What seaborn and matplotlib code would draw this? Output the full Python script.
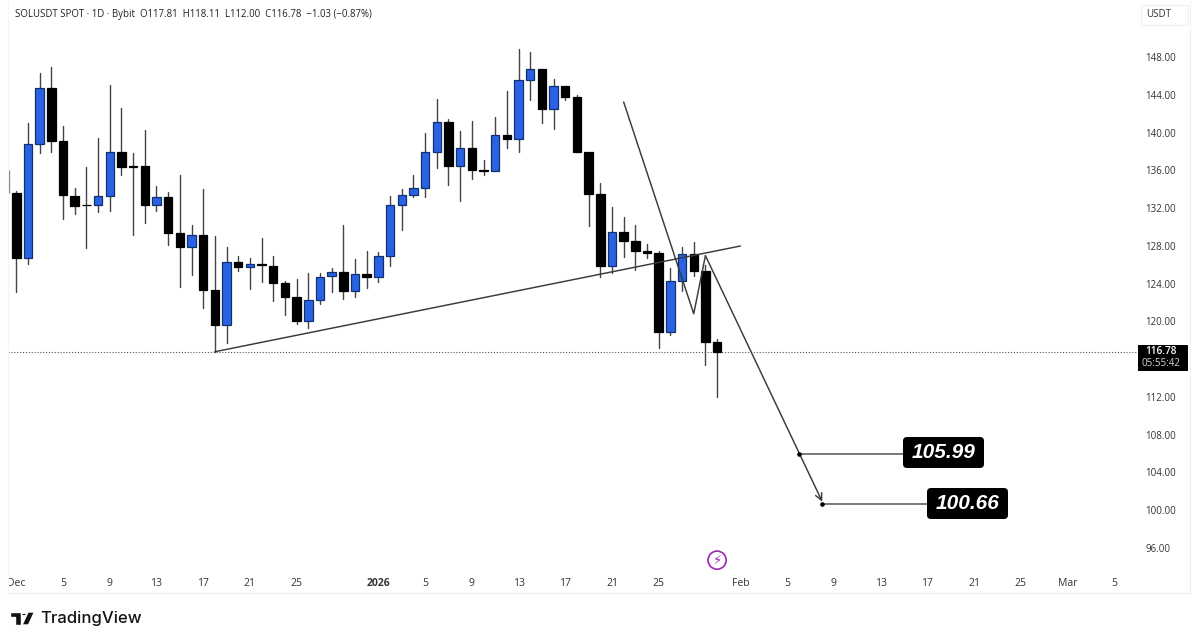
"""SOLUSDT daily candles with hand-drawn TradingView style annotations."""

import matplotlib.pyplot as plt
from matplotlib.patches import Circle, FancyBboxPatch, Polygon, Rectangle
from matplotlib.lines import Line2D
from matplotlib.transforms import IdentityTransform
import pandas as pd
import seaborn as sns

W, H = 1200, 643

# days counted from Dec 1
opens = [133.56, 126.67, 138.78, 144.75, 139.07, 133.31, 132.35, 132.32, 133.31, 137.94,
         136.45, 136.45, 132.29, 133.13, 129.39, 127.84, 129.14, 123.28, 119.57, 126.28,
         125.79, 126.04, 125.90, 124.02, 122.54, 120.03, 122.29, 124.76, 125.26, 123.25,
         125.01, 124.69, 126.88, 132.36, 133.42, 134.16, 137.97, 141.11, 136.42, 138.39,
         136.03, 135.89, 139.74, 139.28, 145.60, 146.76, 142.49, 144.96, 143.80, 137.93,
         133.48, 125.86, 129.49, 128.47, 127.41, 127.23, 118.83, 124.23, 127.16, 125.36,
         117.81]
highs = [133.84, 141.03, 146.27, 146.98, 140.73, 134.16, 136.38, 139.38, 145.03, 142.63,
         137.86, 140.23, 134.33, 133.66, 135.50, 130.17, 134.02, 129.04, 127.91, 126.92,
         126.67, 128.79, 126.92, 124.31, 124.45, 125.15, 125.08, 125.61, 130.17, 126.57,
         127.45, 127.31, 133.27, 133.98, 135.53, 139.91, 143.51, 141.43, 140.12, 141.22,
         137.09, 141.64, 144.43, 148.88, 148.49, 146.76, 145.70, 144.96, 144.01, 137.93,
         134.68, 132.14, 131.01, 130.24, 128.19, 127.48, 125.61, 127.83, 128.36, 126.00,
         118.11]
lows = [123.07, 126.07, 137.79, 137.90, 130.84, 131.37, 127.80, 131.58, 131.65, 135.50,
        129.11, 130.38, 131.65, 128.05, 123.67, 124.91, 121.37, 116.78, 117.67, 125.30,
        123.39, 124.20, 122.19, 120.63, 119.72, 119.26, 121.80, 123.10, 122.33, 122.61,
        123.53, 124.20, 125.86, 129.64, 133.20, 133.20, 136.24, 134.48, 132.78, 135.04,
        135.46, 135.89, 138.32, 137.94, 143.44, 141.01, 140.34, 143.44, 137.90, 130.09,
        124.73, 125.15, 126.77, 125.43, 126.67, 117.20, 118.55, 123.21, 124.80, 115.37,
        112.00]
closes = [126.67, 138.75, 144.75, 139.10, 133.35, 132.22, 132.28, 133.27, 137.90, 136.31,
          136.31, 132.32, 133.13, 129.36, 127.84, 129.14, 123.28, 119.57, 126.28, 125.79,
          126.04, 125.93, 124.02, 122.54, 120.03, 122.26, 124.73, 125.26, 123.25, 125.01,
          124.69, 126.88, 132.32, 133.38, 134.09, 137.97, 141.08, 136.42, 138.39, 136.03,
          135.89, 139.74, 139.31, 145.56, 146.73, 142.49, 144.96, 143.80, 137.90, 133.48,
          125.86, 129.49, 128.50, 127.45, 127.23, 118.83, 124.23, 127.16, 125.36, 117.81,
          116.78]

# leftover wick of the candle cut off at the chart edge
edge_day, edge_low, edge_high = -0.66, 133.56, 136.03

price_ticks = [148, 144, 140, 136, 132, 128, 124, 120, 112, 108, 104, 100, 96]
time_days = [0, 4, 8, 12, 16, 20, 24, 31, 35, 39, 43, 47, 51, 55, 62, 66, 70, 74, 78, 82, 86, 90, 94]
time_labels = ["Dec", "5", "9", "13", "17", "21", "25", "2026", "5", "9", "13", "17", "21", "25",
               "Feb", "5", "9", "13", "17", "21", "25", "Mar", "5"]

neck_days = [17, 62]
neck_prices = [116.78, 127.98]
path_days = [52, 58, 59, 69]
path_prices = [143.23, 120.8, 126.96, 100.9]
target_days = [67, 69]
target_prices = [105.99, 100.66]
target_ends = [76, 78]
# label boxes in pixels: left, top
target_boxes = [(903, 437), (927, 488)]

last_price = 116.78
header = "SOLUSDT SPOT · 1D · Bybit  O117.81  H118.11  L112.00  C116.78  −1.03 (−0.87%)"

BLUE = "#2a62e4"
BLUE_EDGE = "#10306f"
INK = "#131722"
LINE = "#3a3a3a"

sns.set_theme(style="white")
plt.rcParams["font.family"] = ["Open Sans", "DejaVu Sans"]

# pixel scale of the price and time axes
PX_PER_UNIT = 9.44
PX_PER_DAY = 11.68
DAY0_PX = 16.3
AX_L, AX_R, AX_B = 8, 1137, 570

fig = plt.figure(figsize=(W / 100, H / 100), dpi=100, facecolor="white")
ax = fig.add_axes([AX_L / W, 1 - AX_B / H, (AX_R - AX_L) / W, AX_B / H])
ax.patch.set_alpha(0)

candles = pd.DataFrame({"day": range(len(opens)), "open": opens, "high": highs,
                        "low": lows, "close": closes})
candles["bottom"] = candles[["open", "close"]].min(axis=1)
candles["height"] = (candles["open"] - candles["close"]).abs()
candles["up"] = candles["close"] > candles["open"]

wicks = candles.melt(id_vars="day", value_vars=["low", "high"], value_name="price")
sns.lineplot(data=wicks, x="day", y="price", units="day", estimator=None, sort=False,
             color="#444444", linewidth=1.0, ax=ax, zorder=2)
ax.vlines(edge_day, edge_low, edge_high, color="#888888", linewidth=1.0, zorder=2)

for up, color, edge in [(True, BLUE, BLUE_EDGE), (False, "black", "black")]:
    part = candles[candles["up"] == up]
    sns.barplot(data=part, x="day", y="height", bottom=part["bottom"].to_numpy(), native_scale=True,
                width=0.72, color=color, saturation=1, edgecolor=edge, linewidth=0.9,
                ax=ax, zorder=3)

ax.set_xlim((AX_L - DAY0_PX) / PX_PER_DAY, (AX_R - DAY0_PX) / PX_PER_DAY)
ax.set_ylim(148 - (AX_B - 57) / PX_PER_UNIT, 148 + 57 / PX_PER_UNIT)

# drawings on top of the candles
ax.axhline(last_price, color="#555555", linewidth=0.8, linestyle=(0, (1, 1.6)), zorder=1)
ax.plot(neck_days, neck_prices, color=LINE, linewidth=1.05, zorder=4)
ax.plot(path_days[:-1], path_prices[:-1], color=LINE, linewidth=1.05, zorder=4)
ax.annotate("", xy=(path_days[-1], path_prices[-1]), xytext=(path_days[-2], path_prices[-2]),
            arrowprops=dict(arrowstyle="->", color=LINE, lw=1.05, shrinkA=0, shrinkB=0,
                            mutation_scale=12), zorder=4)
for day, price, end, (box_x, box_y) in zip(target_days, target_prices, target_ends, target_boxes):
    ax.plot([day, end + 0.5], [price, price], color="#555555", linewidth=1.1, zorder=4)
    ax.plot(day, price, "o", color="black", markersize=2.3, zorder=5)
    fig.add_artist(FancyBboxPatch((box_x + 3, H - box_y - 28), 75, 25, boxstyle="round,pad=3,rounding_size=4",
                                  facecolor="black", edgecolor="none", transform=IdentityTransform(),
                                  zorder=6))
    fig.text((box_x + 40.5) / W, 1 - (box_y + 15.5) / H, f"{price:.2f}", color="white", fontsize=15,
             fontweight="bold", fontstyle="italic", family="Liberation Sans", ha="center",
             va="center", zorder=7)

ax.scatter([60], [94.7], s=170, facecolor="none", edgecolor="#9c27b0", linewidth=1.2, zorder=4)
ax.text(60, 94.7, "⚡", color="#9c27b0", fontsize=9.5, fontweight="bold", ha="center", va="center",
        family="DejaVu Sans", zorder=5)

# time axis
ax.set_xticks(time_days)
ax.set_xticklabels(time_labels, fontsize=7.5, color="#333333")
for tick, text in zip(ax.get_xticklabels(), time_labels):
    if text == "2026":
        tick.set_fontweight("bold")
ax.tick_params(axis="x", length=0, pad=5.5)
ax.set_xlabel("")

# price axis
ax.yaxis.tick_right()
ax.set_yticks(price_ticks)
ax.set_yticklabels([f"{t:.2f}" for t in price_ticks], fontsize=7, color="#333333")
ax.tick_params(axis="y", length=0, pad=5.8)
ax.set_ylabel("")
sns.despine(ax=ax, left=True, right=True, top=True, bottom=True)


def fx(px):
    return px / W


def fy(py):
    return 1 - py / H


fig.add_artist(Line2D([fx(AX_L), fx(1190)], [fy(593), fy(593)], color="#eeeeee", linewidth=0.8))
fig.add_artist(Line2D([fx(1190), fx(1190)], [fy(0), fy(593)], color="#f0f0f0", linewidth=0.8))
fig.add_artist(Line2D([fx(AX_L), fx(AX_L)], [fy(0), fy(593)], color="#f4f4f4", linewidth=0.8))

fig.text(fx(15), fy(14), header, fontsize=6.9, color="#222222", va="center")

# currency button
fig.add_artist(Rectangle((fx(1141), fy(25)), 47 / W, 20 / H, facecolor="white", edgecolor="#f0f0f0",
                         linewidth=0.8, transform=fig.transFigure))
fig.text(fx(1159), fy(14.5), "USDT", fontsize=7, color="#333333", ha="center", va="center")

# last price tag
fig.add_artist(Rectangle((fx(1138), fy(370.5)), 49.5 / W, 26 / H, facecolor="black", edgecolor="none",
                         transform=fig.transFigure, zorder=5))
fig.text(fx(1145), fy(351.5), f"{last_price:.2f}", fontsize=7.2, fontweight="semibold", color="white",
         va="center", zorder=6)
fig.text(fx(1141), fy(364), "05:55:42", fontsize=7, color="#d5d5d5", va="center", zorder=6)

# TradingView mark
mark = "#131313"
fig.add_artist(Polygon([(fx(10), fy(612)), (fx(21), fy(612)), (fx(21), fy(625)), (fx(15), fy(625)),
                        (fx(15), fy(617)), (fx(10), fy(617))], facecolor=mark, transform=fig.transFigure))
fig.add_artist(Polygon([(fx(28), fy(612)), (fx(34.5), fy(612)), (fx(28.5), fy(625)), (fx(22), fy(625))],
                       facecolor=mark, transform=fig.transFigure))
fig.add_artist(Circle((fx(24), fy(614.5)), 2.5 / W, facecolor=mark, transform=fig.transFigure))
fig.text(fx(40), fy(618.5), "TradingView", fontsize=12, fontweight="medium", family="Inter",
         color=mark, va="center")

fig.savefig("out.png", dpi=100, facecolor="white")
